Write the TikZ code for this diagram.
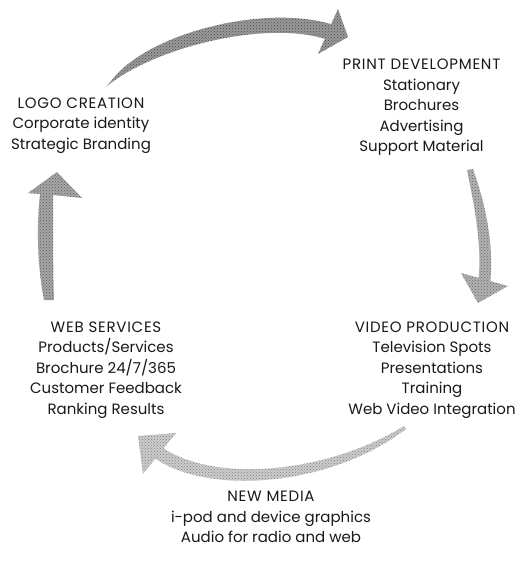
\documentclass[tikz,border=0pt]{standalone}
\usepackage{fontspec}
\setmainfont{Poppins}
\newfontfamily\titlefont[LetterSpace=5]{Poppins}
\usetikzlibrary{patterns}
\begin{document}
\begin{tikzpicture}[x=1pt,y=-1pt,
  lbl/.style={align=center, font=\fontsize{15}{20.5}\selectfont, text=black!90, inner sep=0pt},
  blockarrow/.style={fill=black!#1},
  stipple/.style={pattern=crosshatch dots, pattern color=black!#1}]
\useasboundingbox[fill=white] (0,0) rectangle (518,570);
% text blocks
\node[lbl] (logo) at (81,125.5) {{\titlefont LOGO CREATION}\\Corporate identity\\Strategic Branding};
\node[lbl] (print) at (421.5,107.5) {{\titlefont PRINT DEVELOPMENT}\\Stationary\\Brochures\\Advertising\\Support Material};
\node[lbl] (video) at (432,370) {{\titlefont VIDEO PRODUCTION}\\Television Spots\\Presentations\\Training\\Web Video Integration};
\node[lbl] (web) at (106,370) {{\titlefont WEB SERVICES}\\Products/Services\\Brochure 24/7/365\\Customer Feedback\\Ranking Results};
\node[lbl] (media) at (271,517) {{\titlefont NEW MEDIA}\\i-pod and device graphics\\Audio for radio and web};
% arrow tips
\coordinate (h1) at (348,37);
\coordinate (h2) at (478,303);
\coordinate (h3) at (138,436);
\coordinate (h4) at (57,172);
% top arrow: logo -> print
\def\arrowone{(h1) -- (318,54) -- (324.8,38.8)
  .. controls (264,20) and (152,48) .. (106,87)
  -- (112,80) .. controls (148,33) and (264,4) .. (331.2,24.2)
  -- (338,9) -- cycle}
\fill[blockarrow=40] \arrowone;
\fill[stipple=70] \arrowone;
% right arrow: print -> video
\def\arrowtwo{(h2) -- (461,273) -- (478.7,277.9)
  .. controls (482,240) and (473,200) .. (467,170)
  -- (473,169) .. controls (484,200) and (494,240) .. (490.3,281.1)
  -- (508,286) -- cycle}
\fill[blockarrow=30] \arrowtwo;
\fill[stipple=60] \arrowtwo;
% bottom arrow: video -> web
\def\arrowthree{(h3) -- (176,433) -- (163.6,448.4)
  .. controls (218,484) and (330,472) .. (404,426)
  -- (406,429) .. controls (332,486) and (210,496) .. (155.4,458.6)
  -- (143,474) -- cycle}
\fill[blockarrow=20] \arrowthree;
\fill[stipple=50] \arrowthree;
% left arrow: web -> logo
\def\arrowfour{(h4) -- (82,198) -- (53,195)
  .. controls (53,230) and (53,270) .. (54,300)
  -- (44,300) .. controls (38,270) and (36,230) .. (40,194)
  -- (28,193) -- cycle}
\fill[blockarrow=35] \arrowfour;
\fill[stipple=65] \arrowfour;
\end{tikzpicture}
\end{document}
